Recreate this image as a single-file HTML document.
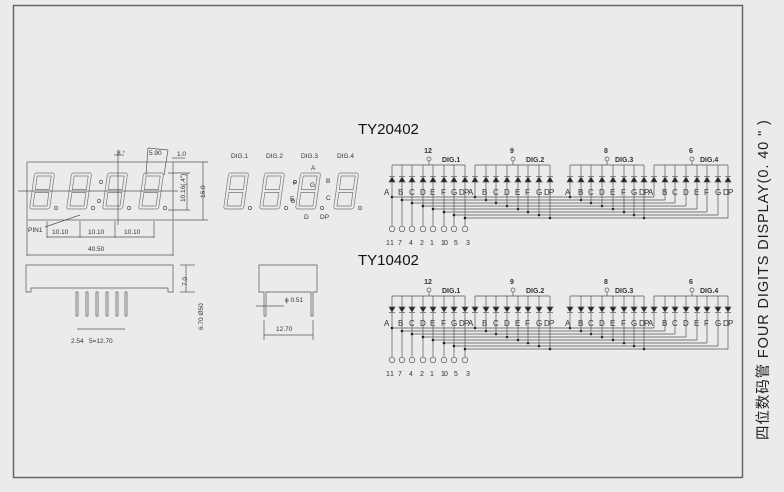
<!DOCTYPE html>
<html><head><meta charset="utf-8"><style>
html,body{margin:0;padding:0;background:#ebebeb;}
svg{display:block;}
text{font-family:"Liberation Sans",sans-serif;fill:#333;}
</style></head><body>
<svg id="s" width="784" height="492" viewBox="0 0 784 492" xmlns="http://www.w3.org/2000/svg">
<rect x="0" y="0" width="784" height="492" fill="#ebebeb"/>
<rect x="13.5" y="5.5" width="729" height="472" fill="none" stroke="#666" stroke-width="1.5"/>
<g id="geo" stroke="#555" stroke-width="0.7" fill="none"></g>
<text x="358" y="134" font-size="15" style="fill:#111">TY20402</text>
<text x="358" y="265" font-size="15" style="fill:#111">TY10402</text>
<g font-size="7" font-weight="bold">
<text x="428" y="153" text-anchor="middle">12</text><text x="512" y="153" text-anchor="middle">9</text><text x="606" y="153" text-anchor="middle">8</text><text x="691" y="153" text-anchor="middle">6</text>
<text x="442" y="162">DIG.1</text><text x="526" y="162">DIG.2</text><text x="615" y="162">DIG.3</text><text x="700" y="162">DIG.4</text>
<text x="428" y="284" text-anchor="middle">12</text><text x="512" y="284" text-anchor="middle">9</text><text x="606" y="284" text-anchor="middle">8</text><text x="691" y="284" text-anchor="middle">6</text>
<text x="442" y="293">DIG.1</text><text x="526" y="293">DIG.2</text><text x="615" y="293">DIG.3</text><text x="700" y="293">DIG.4</text>
</g>
<g font-size="8">
<text y="195" x="384 398 409 420 430 441 451 459 464">ABCDEFGDP</text>
<text y="195" x="468 482 493 504 515 525 536 544 549">ABCDEFGDP</text>
<text y="195" x="565 578 588 599 610 621 631 639 644">ABCDEFGDP</text>
<text y="195" x="648 662 672 683 694 704 715 723 728">ABCDEFGDP</text>
<text y="326" x="384 398 409 420 430 441 451 459 464">ABCDEFGDP</text>
<text y="326" x="468 482 493 504 515 525 536 544 549">ABCDEFGDP</text>
<text y="326" x="565 578 588 599 610 621 631 639 644">ABCDEFGDP</text>
<text y="326" x="648 662 672 683 694 704 715 723 728">ABCDEFGDP</text>
</g>
<g font-size="7">
<text y="245" x="386 390 398 409 420 430 441 444 454 464">117421105 3</text>
<text y="376" x="386 390 398 409 420 430 441 444 454 464">117421105 3</text>
</g>
<g font-size="6.5">
<text x="231" y="158">DIG.1</text><text x="266" y="158">DIG.2</text><text x="301" y="158">DIG.3</text><text x="337" y="158">DIG.4</text>
<text x="311" y="170">A</text><text x="293" y="185">F</text><text x="310" y="187">G</text><text x="326" y="183">B</text>
<text x="290" y="201">E</text><text x="326" y="200">C</text><text x="304" y="219">D</text><text x="320" y="219">DP</text>
<text x="117" y="155">8 °</text><text x="149" y="155">5.90</text><text x="177" y="156">1.0</text>
<text x="28" y="232">PIN1</text>
<text x="52" y="234">10.10</text><text x="88" y="234">10.10</text><text x="124" y="234">10.10</text>
<text x="88" y="251">40.50</text>
<text x="71" y="343">2.54</text><text x="89" y="343">5=12.70</text>
<text x="285" y="302">ϕ 0.51</text><text x="276" y="331">12.70</text>
<text transform="translate(185,202) rotate(-90)">10.16(.4")</text>
<text transform="translate(205,198) rotate(-90)">16.0</text>
<text transform="translate(187,286) rotate(-90)">7.0</text>
<text transform="translate(203,330) rotate(-90)">6.70 Ø50</text>
</g>
<text transform="translate(768,440) rotate(-90)" font-size="14.5" style="fill:#222;font-family:'Liberation Sans','Noto Sans CJK SC',sans-serif;letter-spacing:0.9px">四位数码管 FOUR DIGITS DISPLAY(0. 40 " )</text>
</svg>
<script>
var NS="http://www.w3.org/2000/svg",G=document.getElementById('geo');
function el(t,a,p){var e=document.createElementNS(NS,t);for(var k in a)e.setAttribute(k,a[k]);(p||G).appendChild(e);return e;}
function L(x1,y1,x2,y2){el('line',{x1:x1,y1:y1,x2:x2,y2:y2});}
var grp=[[392,402,412,423,433,444,454,465],[475,486,496,507,518,528,539,550],[570,581,591,602,613,624,634,644],[654,665,675,686,697,707,718,728]];
var pins=[429,513,607,692];
function schem(off,up){
 grp.forEach(function(g,gi){
  L(g[0],165+off,g[7],165+off);
  L(pins[gi],161+off,pins[gi],165+off);
  el('circle',{cx:pins[gi],cy:159+off,r:2});
  g.forEach(function(x,k){
   var yk=197+3*k+off;
   L(x,165+off,x,176+off);
   if(up){el('path',{d:'M'+(x-3)+','+(182+off)+'L'+(x+3)+','+(182+off)+'L'+x+','+(177+off)+'Z',fill:'#222'});L(x-3,176.5+off,x+3,176.5+off);}
   else{el('path',{d:'M'+(x-3)+','+(176+off)+'L'+(x+3)+','+(176+off)+'L'+x+','+(181+off)+'Z',fill:'#222'});L(x-3,181.5+off,x+3,181.5+off);}
   L(x,182+off,x,gi==0?226+off:yk);
   if(gi<3)el('circle',{cx:x,cy:yk,r:1.3,fill:'#111',stroke:'none'});
  });
 });
 for(var k=0;k<8;k++){L(grp[0][k],197+3*k+off,grp[3][k],197+3*k+off);el('circle',{cx:grp[0][k],cy:229+off,r:2.8,fill:'#ebebeb'});}
}
schem(0,true);schem(131,false);
function digit(x,y,w,h){
 var s=0.15*h,g=el('g',{transform:'translate('+x+','+y+') skewX(-8)',stroke:'#777'});
 el('rect',{x:s*0.3,y:0,width:w,height:h,rx:2},g);
 el('rect',{x:s*0.3+3,y:3,width:w-6,height:h/2-4.5},g);
 el('rect',{x:s*0.3+3,y:h/2+1.5,width:w-6,height:h/2-4.5},g);
 el('circle',{cx:x+w+3,cy:y+h-1,r:1.6});
}
[33,70,106,142].forEach(function(x){digit(x,173,20,36);});
[227,263,299,337].forEach(function(x){digit(x,173,20,36);});
el('circle',{cx:101,cy:182,r:1.6});el('circle',{cx:99,cy:201,r:1.6});
el('circle',{cx:295,cy:182,r:1.6});el('circle',{cx:293,cy:201,r:1.6});
el('rect',{x:27,y:162,width:146,height:58});
L(18,191,178,191);L(118,150,118,225);
L(173,162,208,162);L(173,220,208,220);L(203,162,203,220);
L(168,173,190,173);L(168,210,190,210);L(187,173,187,210);
L(47,221,47,238);L(80,221,80,238);L(115,221,115,238);L(154,221,154,238);
L(47,237,154,237);L(27,221,27,256);L(173,221,173,256);L(27,255,173,255);
L(45,227,80,215);
L(148,148,146,175);L(168,150,164,175);L(148,148,168,150);
L(114,155,124,155);L(172,158,185,158);
el('path',{d:'M26,265H173V292H168V288H31V292H26Z'});
[76,86,96,106,116,125].forEach(function(x){el('rect',{x:x,y:292,width:2,height:24});});
L(77,329,125,329);L(186,265,186,292);L(180,265,195,265);L(180,292,195,292);
el('path',{d:'M259,265H317V292H313V316H311V292H266V316H264V292H259Z'});
L(256,306,284,306);L(264,320,264,340);L(313,320,313,340);L(264,335,313,335);
</script>
</body></html>
